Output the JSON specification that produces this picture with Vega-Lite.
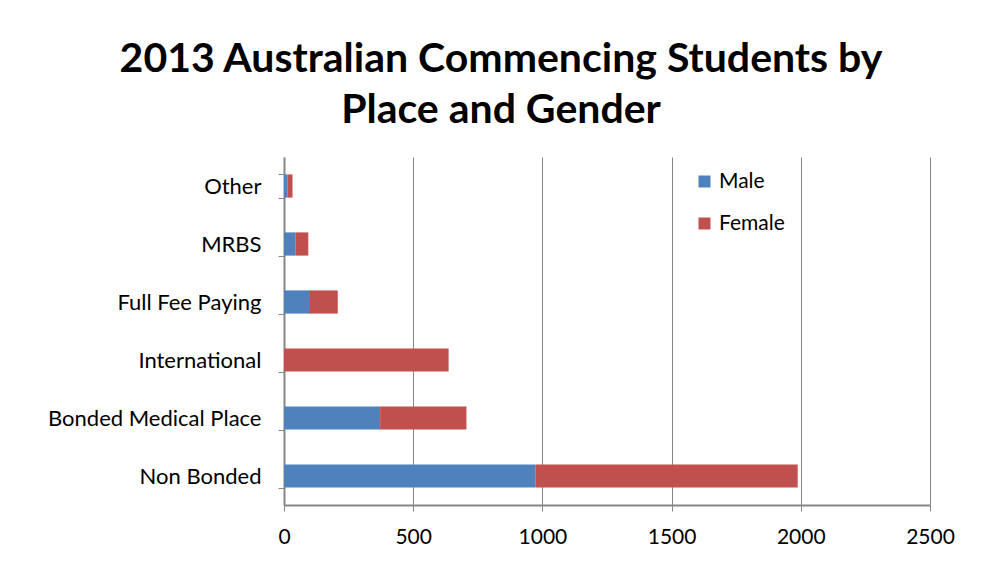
{
  "$schema": "https://vega.github.io/schema/vega-lite/v6.json",
  "autosize": {"type": "none"},
  "width": 646,
  "height": 348,
  "padding": {"left": 284, "top": 157, "right": 51, "bottom": 69},
  "background": "white",
  "title": {
    "text": ["2013 Australian Commencing Students by", "Place and Gender"],
    "font": "Lato",
    "fontSize": 41,
    "fontWeight": "bold",
    "color": "#000000",
    "anchor": "middle",
    "frame": "group",
    "dx": -106,
    "offset": 14,
    "lineHeight": 51
  },
  "data": {
    "values": [
      {"place": "Other", "gender": "Male", "students": 13},
      {"place": "Other", "gender": "Female", "students": 20},
      {"place": "MRBS", "gender": "Male", "students": 44},
      {"place": "MRBS", "gender": "Female", "students": 50},
      {"place": "Full Fee Paying", "gender": "Male", "students": 97},
      {"place": "Full Fee Paying", "gender": "Female", "students": 111},
      {"place": "International", "gender": "Male", "students": 0},
      {"place": "International", "gender": "Female", "students": 637},
      {"place": "Bonded Medical Place", "gender": "Male", "students": 372},
      {"place": "Bonded Medical Place", "gender": "Female", "students": 334},
      {"place": "Non Bonded", "gender": "Male", "students": 974},
      {"place": "Non Bonded", "gender": "Female", "students": 1014}
    ]
  },
  "mark": {"type": "bar"},
  "encoding": {
    "y": {
      "field": "place",
      "type": "nominal",
      "sort": ["Other", "MRBS", "Full Fee Paying", "International", "Bonded Medical Place", "Non Bonded"],
      "scale": {"paddingInner": 0.6, "paddingOuter": 0.3},
      "axis": {
        "title": null,
        "labelFont": "Lato",
        "labelFontSize": 22,
        "labelColor": "#000000",
        "labelPadding": 17,
        "labelLimit": 400,
        "tickBand": "extent",
        "ticks": true,
        "tickSize": 6,
        "tickColor": "#868686",
        "domainColor": "#868686",
        "domainWidth": 2,
        "grid": false
      }
    },
    "x": {
      "field": "students",
      "type": "quantitative",
      "stack": "zero",
      "scale": {"domain": [0, 2500], "nice": false},
      "axis": {
        "title": null,
        "values": [0, 500, 1000, 1500, 2000, 2500],
        "format": "d",
        "labelFont": "Lato",
        "labelFontSize": 21,
        "labelColor": "#000000",
        "labelPadding": 15,
        "tickSize": 6,
        "tickColor": "#868686",
        "domainColor": "#868686",
        "domainWidth": 2,
        "grid": true,
        "gridColor": "#868686",
        "gridWidth": 1,
        "gridOpacity": 1,
        "labelFlush": false
      }
    },
    "order": {"field": "gender", "sort": "descending"},
    "color": {
      "field": "gender",
      "type": "nominal",
      "scale": {"domain": ["Male", "Female"], "range": ["#4F81BD", "#C0504D"]},
      "legend": {
        "title": null,
        "orient": "none",
        "legendX": 410,
        "legendY": 14,
        "symbolType": "square",
        "symbolSize": 144,
        "symbolStrokeWidth": 0,
        "labelFont": "Lato",
        "labelFontSize": 21,
        "labelColor": "#000000",
        "labelOffset": 4,
        "rowPadding": 20
      }
    }
  },
  "config": {
    "view": {"stroke": null}
  }
}
